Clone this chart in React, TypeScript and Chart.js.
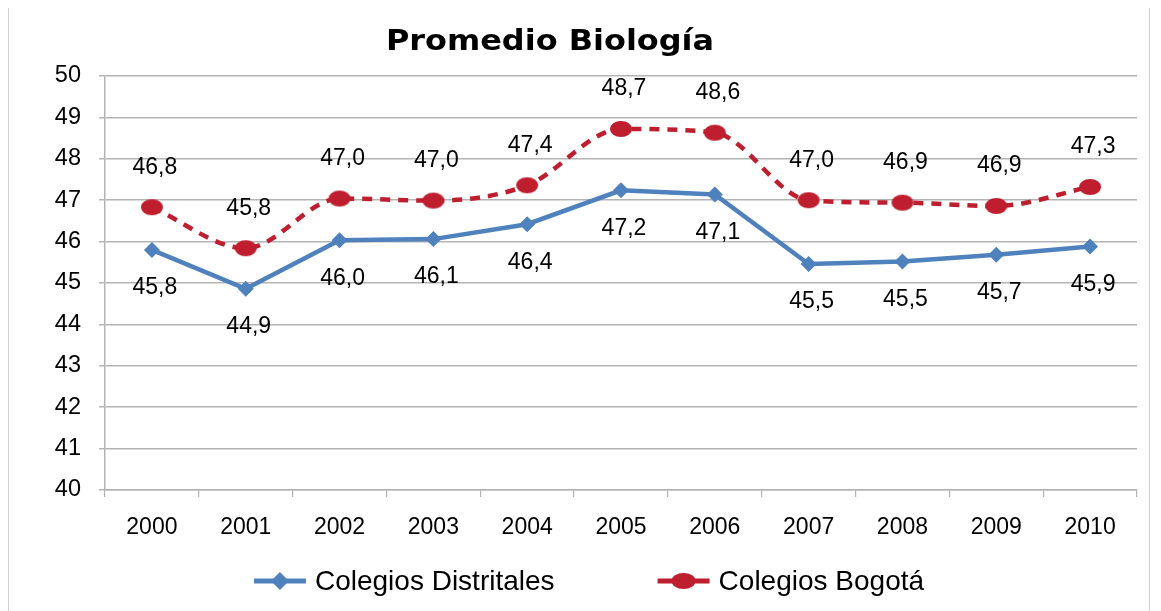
import React, { useEffect, useRef } from "react";
import { Chart, registerables } from "chart.js";

Chart.register(...registerables);

const TITLE = "Promedio Biología";
const YEARS = ["2000", "2001", "2002", "2003", "2004", "2005", "2006", "2007", "2008", "2009", "2010"];
const DISTRITALES = [45.8, 44.86, 46.03, 46.06, 46.42, 47.24, 47.14, 45.46, 45.52, 45.68, 45.88];
const BOGOTA = [46.83, 45.84, 47.04, 46.99, 47.36, 48.72, 48.63, 47.0, 46.94, 46.86, 47.32];
const SERIES_NAMES = ["Colegios Distritales", "Colegios Bogotá"];
const Y_MIN = 40;
const Y_MAX = 50;

const BLUE = "#4f81bd";
const RED = "#be1e2d";
const GRID = "#b4b4b4";
const TEXT_FONT = "'Liberation Sans', Arial, sans-serif";

const fmt = (v: number) => v.toFixed(1).replace(".", ",");

function ellipseMarker(color: string, rx: number, ry: number): HTMLCanvasElement {
  const c = document.createElement("canvas");
  c.width = Math.ceil(rx * 2 + 2);
  c.height = Math.ceil(ry * 2 + 2);
  const ctx = c.getContext("2d")!;
  ctx.fillStyle = color;
  ctx.beginPath();
  ctx.ellipse(c.width / 2, c.height / 2, rx, ry, 0, 0, Math.PI * 2);
  ctx.fill();
  return c;
}

const titlePlugin = {
  id: "customTitle",
  afterDraw(chart: any) {
    const ctx = chart.ctx;
    ctx.save();
    ctx.font = "bold 28px 'DejaVu Sans', sans-serif";
    ctx.fillStyle = "#000";
    ctx.textAlign = "center";
    ctx.textBaseline = "alphabetic";
    ctx.translate(chart.width / 2 - 29, 43);
    ctx.scale(1.14, 1);
    ctx.fillText(TITLE, 0, 0);
    ctx.restore();
  },
};

const dataLabelPlugin = {
  id: "dataLabels",
  afterDatasetsDraw(chart: any) {
    const ctx = chart.ctx;
    ctx.save();
    ctx.font = `23px ${TEXT_FONT}`;
    ctx.fillStyle = "#000";
    ctx.textAlign = "center";
    ctx.textBaseline = "middle";
    chart.data.datasets.forEach((ds: any, di: number) => {
      const meta = chart.getDatasetMeta(di);
      meta.data.forEach((pt: any, i: number) => {
        const off = di === 0 ? 38 : -40;
        ctx.fillText(fmt(ds.data[i]), pt.x + 3, pt.y + off);
      });
    });
    ctx.restore();
  },
};

const legendPlugin = {
  id: "customLegend",
  afterDraw(chart: any) {
    const ctx = chart.ctx;
    ctx.save();
    ctx.font = `28px ${TEXT_FONT}`;
    const lineLen = 52;
    const gap = 9;
    const itemGap = 103;
    const items = chart.data.datasets.map((ds: any) => ({
      ds,
      w: lineLen + gap + ctx.measureText(ds.label).width,
    }));
    const total = items.reduce((s: number, it: any) => s + it.w, 0) + itemGap * (items.length - 1);
    let x = chart.width / 2 + 10 - total / 2;
    const y = chart.height - 30;
    items.forEach((it: any, idx: number) => {
      const ds = it.ds;
      ctx.strokeStyle = ds.borderColor;
      ctx.fillStyle = ds.borderColor;
      ctx.lineWidth = 5;
      ctx.setLineDash([]);
      ctx.beginPath();
      ctx.moveTo(x, y);
      ctx.lineTo(x + lineLen, y);
      ctx.stroke();
      const cx = x + lineLen / 2;
      ctx.beginPath();
      if (idx === 0) {
        ctx.moveTo(cx, y - 9);
        ctx.lineTo(cx + 9, y);
        ctx.lineTo(cx, y + 9);
        ctx.lineTo(cx - 9, y);
        ctx.closePath();
      } else {
        ctx.ellipse(cx, y, 12, 8, 0, 0, Math.PI * 2);
      }
      ctx.fill();
      ctx.fillStyle = "#000";
      ctx.textAlign = "left";
      ctx.textBaseline = "middle";
      ctx.fillText(ds.label, x + lineLen + gap, y + 1);
      x += it.w + itemGap;
    });
    ctx.restore();
  },
};

export default function App() {
  const ref = useRef<HTMLCanvasElement | null>(null);
  useEffect(() => {
    if (!ref.current) return;
    const redMarker = ellipseMarker(RED, 11, 8);
    const chart = new Chart(ref.current, {
      type: "line",
      data: {
        labels: YEARS,
        datasets: [
          {
            label: SERIES_NAMES[0],
            data: DISTRITALES,
            borderColor: BLUE,
            backgroundColor: BLUE,
            borderWidth: 4.5,
            pointStyle: "rectRot",
            pointRadius: 8,
            pointHoverRadius: 8,
            pointBackgroundColor: BLUE,
            pointBorderWidth: 0,
            tension: 0,
          },
          {
            label: SERIES_NAMES[1],
            data: BOGOTA,
            borderColor: RED,
            backgroundColor: RED,
            borderWidth: 4.5,
            borderDash: [10, 8],
            pointStyle: redMarker,
            pointRadius: 9,
            pointHoverRadius: 9,
            pointBackgroundColor: RED,
            pointBorderWidth: 0,
            cubicInterpolationMode: "monotone",
          },
        ],
      },
      options: {
        animation: false,
        responsive: true,
        maintainAspectRatio: false,
        layout: { padding: { top: 69, right: 12, left: 0, bottom: 61 } },
        plugins: {
          legend: { display: false },
          title: { display: false },
          tooltip: { enabled: false },
        },
        scales: {
          x: {
            offset: true,
            grid: {
              offset: true,
              drawOnChartArea: false,
              drawTicks: true,
              tickLength: 7,
              color: GRID,
              lineWidth: 1.2,
            },
            border: { color: GRID, width: 1.5 },
            ticks: {
              color: "#000",
              font: { family: TEXT_FONT, size: 23 },
              padding: 17,
              maxRotation: 0,
            },
            afterFit: (axis: any) => {
              axis.height = 60;
            },
          },
          y: {
            min: Y_MIN,
            max: Y_MAX,
            grid: {
              color: GRID,
              lineWidth: 1.5,
              tickLength: 6,
            },
            border: { color: GRID, width: 1.5 },
            ticks: {
              stepSize: 1,
              color: "#000",
              font: { family: TEXT_FONT, size: 23.5 },
              padding: 18,
            },
            afterFit: (axis: any) => {
              axis.width = 96;
            },
          },
        },
      },
      plugins: [titlePlugin, dataLabelPlugin, legendPlugin],
    });
    return () => chart.destroy();
  }, []);

  return (
    <div
      style={{
        position: "relative",
        width: 1140,
        height: 604,
        marginTop: -2,
        border: "1px solid #d0d0d0",
        background: "#fff",
      }}
    >
      <canvas ref={ref} />
    </div>
  );
}
